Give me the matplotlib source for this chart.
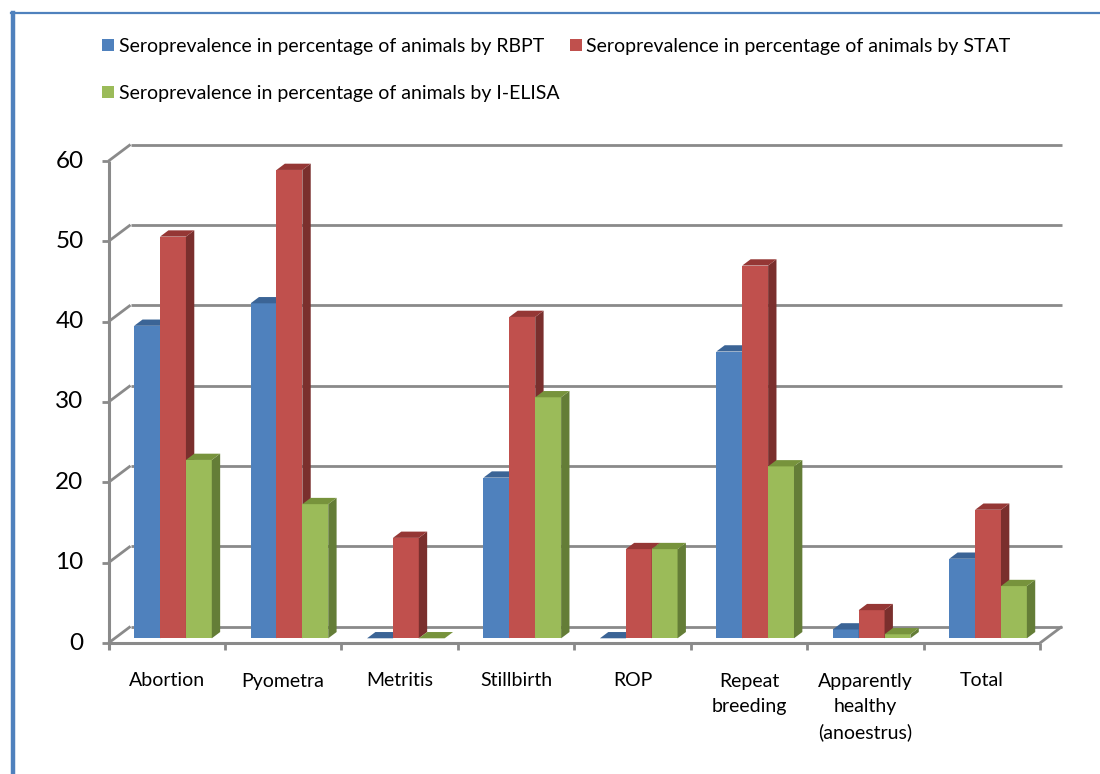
import matplotlib
matplotlib.use("Agg")
import matplotlib.pyplot as plt
from matplotlib.patches import Polygon, Patch
from matplotlib.lines import Line2D

plt.rcParams['font.family'] = ['Lato', 'DejaVu Sans']

# ---- data -------------------------------------------------------------
categories = ["Abortion", "Pyometra", "Metritis", "Stillbirth", "ROP",
              "Repeat\nbreeding", "Apparently\nhealthy\n(anoestrus)", "Total"]
rbpt = [38.9, 41.7, 0.0, 20.0, 0.0, 35.7, 1.1, 9.9]
stat = [50.0, 58.3, 12.5, 40.0, 11.1, 46.4, 3.5, 16.0]
ielisa = [22.2, 16.7, 0.0, 30.0, 11.1, 21.4, 0.5, 6.5]
series_labels = ["Seroprevalence in percentage of animals by RBPT",
                 "Seroprevalence in percentage of animals by STAT",
                 "Seroprevalence in percentage of animals by I-ELISA"]
y_ticks = [0, 10, 20, 30, 40, 50, 60]

front = ["#4F81BD", "#C0504D", "#9BBB59"]
top = ["#3B6496", "#953735", "#77933C"]
side = ["#355A86", "#7A2F2D", "#647D37"]
grid_c = "#8A8A8A"

W, H = 1100, 774
fig = plt.figure(figsize=(W / 100, H / 100), dpi=100)

# front plane of the 3-D box, in pixels
x0_px, x1_px = 108.5, 1040.0
y0_px, y60_px = 643.0, 161.0
ax = fig.add_axes([x0_px / W, 1 - y0_px / H, (x1_px - x0_px) / W, (y0_px - y60_px) / H])
n = len(categories)
ax.set_xlim(0, n)
ax.set_ylim(0, 60)
ax.axis("off")

px_x = n / (x1_px - x0_px)      # data units per pixel (x)
px_y = 60 / (y0_px - y60_px)    # data units per pixel (y)

# depth of the box (oblique projection)
dx, dy = 22 * px_x, 16.5 * px_y
f0, f1 = 0.285, 0.665           # depth span occupied by the columns

kw = dict(clip_on=False, solid_capstyle="butt")
# back wall gridlines and left wall connectors
for v in y_ticks:
    ax.plot([dx, n + dx], [v + dy, v + dy], color=grid_c, lw=2.0, zorder=1, **kw)
    ax.plot([0, dx], [v, v + dy], color=grid_c, lw=2.0, zorder=1, **kw)
    ax.plot([-7 * px_x, 0], [v, v], color=grid_c, lw=2.0, zorder=1, **kw)
    ax.text(-25 * px_x, v, f"{v}", ha="right", va="center", fontsize=17.5,
            color="black")
# vertical front axis
ax.plot([0, 0], [-7 * px_y, 60], color=grid_c, lw=2.2, zorder=1, **kw)
# floor edges
ax.plot([0, n], [0, 0], color=grid_c, lw=2.2, zorder=1, **kw)
ax.plot([n, n + dx], [0, dy], color=grid_c, lw=2.0, zorder=1, **kw)
for i in range(1, n + 1):
    ax.plot([i, i], [-7 * px_y, 0], color=grid_c, lw=2.0, zorder=1, **kw)

# category labels
for i, c in enumerate(categories):
    ax.text(i + 0.5, -29.5 * px_y, c, ha="center", va="top", fontsize=14,
            linespacing=1.58)

# columns
w = 1 / 4.5
base = f0 * dy
ddx, ddy = (f1 - f0) * dx, (f1 - f0) * dy
z = 2
for i in range(n):
    for j, vals in enumerate([rbpt, stat, ielisa]):
        v = vals[i]
        xl = i + 0.75 * w + j * w + f0 * dx
        ht = base + v
        if v > 0:
            ax.bar(xl, v, width=w, bottom=base, align="edge", color=front[j],
                   linewidth=0, zorder=z, clip_on=False)
            ax.add_patch(Polygon([(xl + w, base), (xl + w, ht),
                                  (xl + w + ddx, ht + ddy), (xl + w + ddx, base + ddy)],
                                 closed=True, facecolor=side[j], lw=0, zorder=z,
                                 clip_on=False))
        ax.add_patch(Polygon([(xl, ht), (xl + w, ht), (xl + w + ddx, ht + ddy),
                              (xl + ddx, ht + ddy)], closed=True, facecolor=top[j],
                             lw=0, zorder=z, clip_on=False))
        z += 1

# legend (row-major order: RBPT, STAT on the first row, I-ELISA below)
handles = [Patch(facecolor=front[k], edgecolor="none") for k in range(3)]
order = [0, 2, 1]
fig.legend([handles[k] for k in order], [series_labels[k] for k in order],
           ncol=2, loc="upper left", bbox_to_anchor=(102 / W, 1 - 38 / H),
           frameon=False, fontsize=14, handlelength=0.6, handleheight=0.6,
           handletextpad=0.25, columnspacing=0.55, labelspacing=1.55,
           borderaxespad=0, borderpad=0)

# chart frame (left and top edges)
fig.add_artist(Line2D([12.5 / W, 12.5 / W], [0, 1 - 12.5 / H], color="#4F81BD",
                      lw=3.2, transform=fig.transFigure))
fig.add_artist(Line2D([11 / W, 1], [1 - 13 / H, 1 - 13 / H], color="#4F81BD",
                      lw=1.6, transform=fig.transFigure))

fig.savefig("out.png", dpi=100, facecolor="white")
